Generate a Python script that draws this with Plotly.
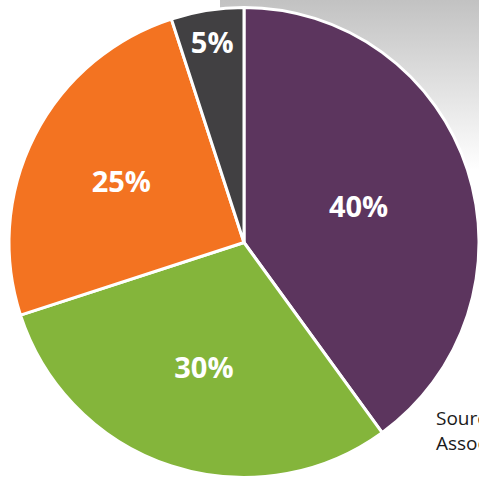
import plotly.graph_objects as go

labels = ["Purple", "Green", "Orange", "Gray"]
values = [40, 30, 25, 5]
colors = ["#5C355E", "#84B53B", "#F37321", "#414042"]
text_labels = ["40%", "30%", "25%", "5%"]
source_text = "Source: National<br>Association"

W = H = 479

fig = go.Figure()

# faint gray background image area (top right)
bg_x = [220, 479, 479, 220, 220]
bg_y = [0, 0, 170, 170, 0]
fig.add_trace(go.Scatter(
    x=bg_x, y=bg_y, mode="lines", fill="toself",
    line=dict(width=0),
    fillgradient=dict(type="vertical", colorscale=[[0, "#ffffff"], [1, "#c2c2c2"]]),
    hoverinfo="skip", showlegend=False,
))

fig.add_trace(go.Pie(
    labels=labels, values=values, sort=False, direction="clockwise", rotation=0,
    marker=dict(colors=colors, line=dict(color="white", width=3)),
    text=text_labels, textinfo="text", textposition="inside",
    insidetextorientation="horizontal",
    textfont=dict(family="Open Sans", size=29, color="white", weight="bold"),
    domain=dict(x=[9 / W, 1.0], y=[1 / H, 1 - 7 / H]),
    showlegend=False,
))

fig.add_annotation(
    x=434 / W, y=1 - 403 / H, xref="paper", yref="paper",
    xanchor="left", yanchor="top", align="left",
    text=source_text,
    showarrow=False,
    font=dict(family="Open Sans", size=19, color="#1a1a1a"),
)

fig.update_layout(
    width=W, height=H,
    margin=dict(l=0, r=0, t=0, b=0),
    paper_bgcolor="white", plot_bgcolor="rgba(0,0,0,0)",
    xaxis=dict(range=[0, W], visible=False, domain=[0, 1], fixedrange=True),
    yaxis=dict(range=[H, 0], visible=False, domain=[0, 1], fixedrange=True),
)

fig.write_html("out.html")
